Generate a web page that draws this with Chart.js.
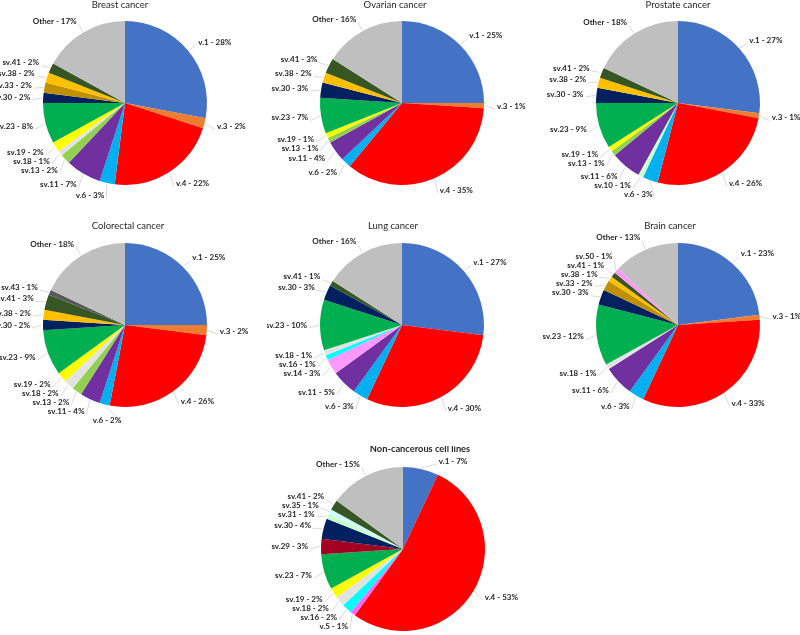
<!DOCTYPE html>
<html>
<head>
<meta charset="utf-8">
<script src="https://cdn.jsdelivr.net/npm/chart.js@4.4.1/dist/chart.umd.min.js"></script>
<style>
  body { margin: 0; background: #fff; width: 800px; height: 635px; overflow: hidden; position: relative; }
  .box { position: absolute; width: 270px; }
</style>
</head>
<body>
<div class="box" style="left:-10px;top:0;height:212px"><canvas id="breast"></canvas></div>
<div class="box" style="left:267px;top:0;height:212px"><canvas id="ovarian"></canvas></div>
<div class="box" style="left:543px;top:0;height:212px"><canvas id="prostate"></canvas></div>
<div class="box" style="left:-10px;top:222px;height:212px"><canvas id="colorectal"></canvas></div>
<div class="box" style="left:267px;top:222px;height:212px"><canvas id="lung"></canvas></div>
<div class="box" style="left:543px;top:222px;height:212px"><canvas id="brain"></canvas></div>
<div class="box" style="left:268px;top:446px;height:189px"><canvas id="noncancer"></canvas></div>
<script>
// data, clockwise from 12 o'clock
const breastLabels = ['v.1','v.3','v.4','v.6','sv.11','sv.13','sv.18','sv.19','sv.23','sv.30','sv.33','sv.38','sv.41','Other']
const breastValues = [28, 2, 22, 3, 7, 2, 1, 2, 8, 2, 2, 2, 2, 17]

const ovarianLabels = ['v.1','v.3','v.4','v.6','sv.11','sv.13','sv.19','sv.23','sv.30','sv.38','sv.41','Other']
const ovarianValues = [25, 1, 35, 2, 4, 1, 1, 7, 3, 2, 3, 16]

const prostateLabels = ['v.1','v.3','v.4','v.6','sv.10','sv.11','sv.13','sv.19','sv.23','sv.30','sv.38','sv.41','Other']
const prostateValues = [27, 1, 26, 3, 1, 6, 1, 1, 9, 3, 2, 2, 18]

const colorectalLabels = ['v.1','v.3','v.4','v.6','sv.11','sv.13','sv.18','sv.19','sv.23','sv.30','sv.38','sv.41','sv.43','Other']
const colorectalValues = [25, 2, 26, 2, 4, 2, 2, 2, 9, 2, 2, 3, 1, 18]

const lungLabels = ['v.1','v.4','v.6','sv.11','sv.14','sv.16','sv.18','sv.23','sv.30','sv.41','Other']
const lungValues = [27, 30, 3, 5, 3, 1, 1, 10, 3, 1, 16]

const brainLabels = ['v.1','v.3','v.4','v.6','sv.11','sv.18','sv.23','sv.30','sv.33','sv.38','sv.41','sv.50','Other']
const brainValues = [23, 1, 33, 3, 6, 1, 12, 3, 2, 1, 1, 1, 13]

const nonLabels = ['v.1','v.4','v.5','sv.16','sv.18','sv.19','sv.23','sv.29','sv.30','sv.31','sv.35','sv.41','Other']
const nonValues = [7, 53, 1, 2, 2, 2, 7, 3, 4, 1, 1, 2, 15]

const colorOf = {
  'v.1': '#4472C4', 'v.3': '#ED7D31', 'v.4': '#FF0000', 'v.5': '#FF66FF', 'v.6': '#00B0F0',
  'sv.10': '#CCFFCC', 'sv.11': '#7030A0', 'sv.13': '#92D050', 'sv.14': '#FF99FF', 'sv.16': '#00FFFF',
  'sv.18': '#E2E2E2', 'sv.19': '#FFFF00', 'sv.23': '#00B050', 'sv.29': '#A50021', 'sv.30': '#002060',
  'sv.31': '#CCFFCC', 'sv.33': '#BF9000', 'sv.35': '#CCFFFF', 'sv.38': '#FFC000', 'sv.41': '#375623',
  'sv.43': '#595959', 'sv.50': '#FF99FF', 'Other': '#BFBFBF'
}

// outside labels with leader lines + title
const pieLabels = {
  id: 'pieLabels',
  afterDatasetsDraw(chart, args, opts) {
    const ctx = chart.ctx
    const arcs = chart.getDatasetMeta(0).data
    const vals = chart.data.datasets[0].data
    const labs = chart.data.labels
    if (!arcs.length) return
    const cx = arcs[0].x, cy = arcs[0].y, r = arcs[0].outerRadius
    const R = r + 13
    const gap = 9

    let items = arcs.map((a, i) => {
      const mid = (a.startAngle + a.endAngle) / 2
      return {
        i, mid,
        side: Math.cos(mid) >= 0 ? 1 : -1,
        y: Math.max(cy - r - 6, cy + R * Math.sin(mid)),
        text: labs[i] + ' - ' + vals[i] + '%'
      }
    })

    ;[1, -1].forEach(side => {
      const list = items.filter(it => it.side === side).sort((a, b) => a.y - b.y)
      for (let k = 0; k < 60; k++) {
        for (let j = 0; j < list.length - 1; j++) {
          const d = list[j + 1].y - list[j].y
          if (d < gap) {
            const s = (gap - d) / 2
            list[j].y -= s
            list[j + 1].y += s
          }
        }
      }
    })

    ctx.save()
    ctx.font = 'bold 8px Lato'
    ctx.textBaseline = 'middle'
    items.forEach(it => {
      const dy = Math.max(-R, Math.min(R, it.y - cy))
      const x = cx + it.side * Math.sqrt(R * R - dy * dy)
      // leader line
      ctx.strokeStyle = '#CFCFCF'
      ctx.lineWidth = 0.8
      ctx.beginPath()
      ctx.moveTo(cx + (r + 1) * Math.cos(it.mid), cy + (r + 1) * Math.sin(it.mid))
      ctx.lineTo(x - it.side * 2, it.y + 3)
      ctx.stroke()
      ctx.fillStyle = '#262626'
      ctx.textAlign = it.side > 0 ? 'left' : 'right'
      ctx.fillText(it.text, x, it.y)
    })

    ctx.fillStyle = '#262626'
    ctx.textAlign = 'center'
    ctx.font = opts.bold ? 'bold 9.3px Lato' : '9.5px Lato'
    ctx.fillText(opts.title, cx + opts.dx, cy + opts.dy)
    ctx.restore()
  }
}

function makePie(id, title, labels, values, dx, dy, bold, bottomPad) {
  new Chart(document.querySelector('#' + id), {
    type: 'pie',
    data: {
      labels: labels,
      datasets: [{
        data: values,
        backgroundColor: labels.map(l => colorOf[l]),
        borderWidth: 0,
        radius: 82
      }]
    },
    options: {
      responsive: true,
      maintainAspectRatio: false,
      animation: false,
      events: [],
      layout: { padding: { left: 53, right: 53, top: 21, bottom: bottomPad } },
      plugins: {
        legend: { display: false },
        tooltip: { enabled: false },
        pieLabels: { title: title, dx: dx, dy: dy, bold: bold }
      }
    },
    plugins: [pieLabels]
  })
}

makePie('breast', 'Breast cancer', breastLabels, breastValues, -5, -98, false, 27)
makePie('ovarian', 'Ovarian cancer', ovarianLabels, ovarianValues, -7, -98, false, 27)
makePie('prostate', 'Prostate cancer', prostateLabels, prostateValues, 0, -98, false, 27)
makePie('colorectal', 'Colorectal cancer', colorectalLabels, colorectalValues, 3, -99, false, 27)
makePie('lung', 'Lung cancer', lungLabels, lungValues, -9, -99, false, 27)
makePie('brain', 'Brain cancer', brainLabels, brainValues, -8, -99, false, 27)
makePie('noncancer', 'Non-cancerous cell lines', nonLabels, nonValues, 17, -100, true, 4)
</script>
</body>
</html>
